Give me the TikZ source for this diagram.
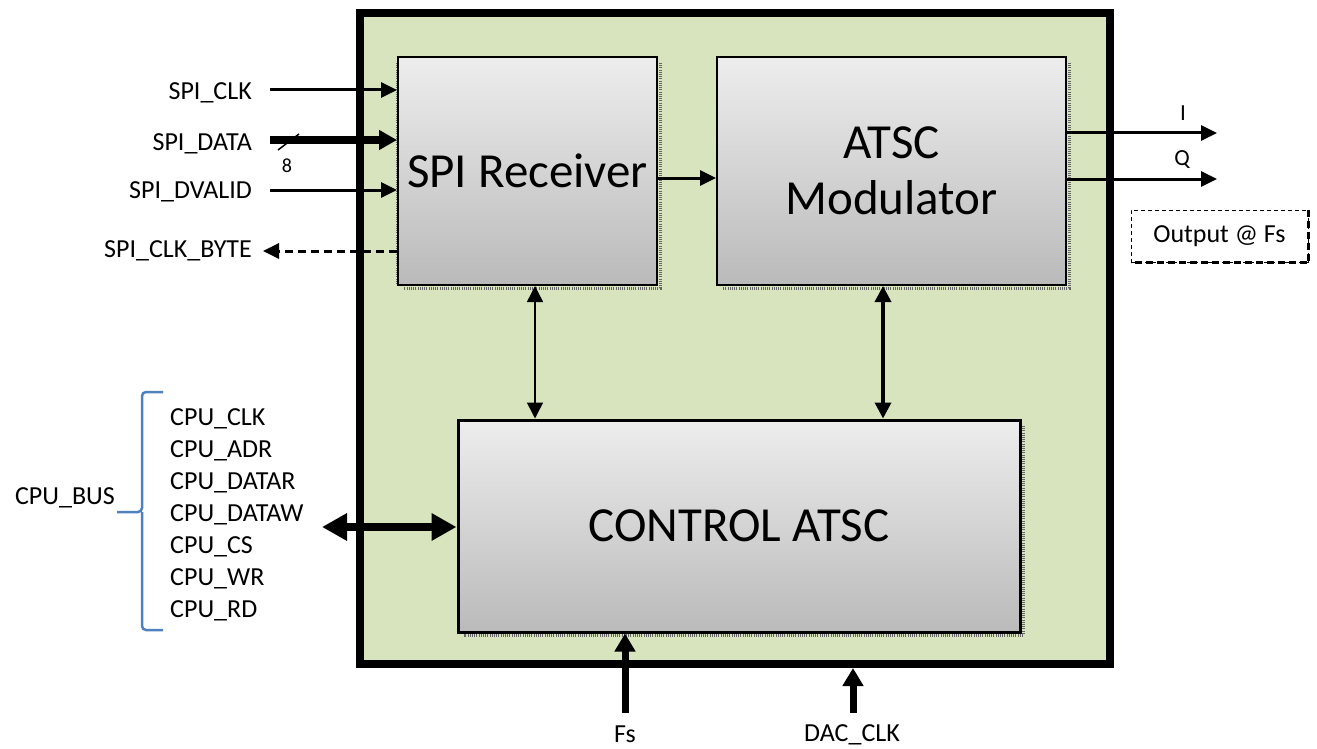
\documentclass[tikz,border=0pt]{standalone}
\usepackage{fontspec}
\setmainfont{Carlito}
\usetikzlibrary{arrows.meta,calc}
\definecolor{chipgreen}{HTML}{D7E4BD}
\definecolor{bracebl}{HTML}{4F81BD}
\tikzset{
	txt/.style={font=\fontsize{26}{30}\selectfont, inner sep=0pt},
	cpu/.style={font=\fontsize{26}{30}\selectfont, inner sep=0pt, anchor=base west},
	big/.style={font=\fontsize{49}{56}\selectfont, align=center},
	chip/.style={draw, line width=8pt, fill=chipgreen},
	blk/.style={draw, line width=2pt, top color=black!7, bottom color=black!27},
	dots/.style={draw=black!60, line width=3pt, dash pattern=on 1pt off 1.2pt},
	sig/.style={line width=3pt, -{Triangle[length=16pt,width=15pt]}},
	wide/.style={line width=8pt, -{Triangle[length=18pt,width=19pt]}},
	busarr/.style={line width=8pt, {Triangle[length=25pt,width=26pt]}-{Triangle[length=25pt,width=26pt]}},
	clkarr/.style={line width=7pt, -{Triangle[length=18pt,width=20pt]}},
	link/.style={{Triangle[length=16pt,width=16pt]}-{Triangle[length=16pt,width=16pt]}}
}

\begin{document}
\begin{tikzpicture}[x=1pt,y=-1pt]
\useasboundingbox (0,0) rectangle (1317,749);
% chip
\node[chip, minimum width=750, minimum height=651] (chip) at (735,338.5) {};
% blocks
\draw[dots] (397,63) -- (397,285);
\draw[dots] (660,63) -- (660,288) -- (404,288);
\draw[dots] (1069,63) -- (1069,288) -- (723,288);
\draw[dots] (1023,426) -- (1023,635) -- (464,635);
\node[blk, big, minimum width=259, minimum height=228] (spi) at (527.5,171) {SPI Receiver};
\node[blk, big, minimum width=349, minimum height=228] (atsc) at (891.5,171) {ATSC\\Modulator};
\node[blk, big, line width=3pt, minimum width=562, minimum height=212] (ctl) at (739,526) {CONTROL ATSC};
% SPI side
\node[txt, anchor=base east] (clk) at (252,100) {SPI\_CLK};
\node[txt, anchor=base east] (data) at (252,150) {SPI\_DATA};
\node[txt, anchor=base east] (dvalid) at (252,198) {SPI\_DVALID};
\node[txt, anchor=base east] (byte) at (252,257) {SPI\_CLK\_BYTE};
\coordinate (clkin) at (270,90);
\coordinate (datain) at (270,140);
\coordinate (dvin) at (270,190);
\coordinate (byteout) at (263,251);
\draw[sig] (clkin) -- (clkin -| spi.west);
\draw[wide] (datain) -- (datain -| spi.west);
\draw[sig] (dvin) -- (dvin -| spi.west);
\draw[sig, dash pattern=on 8pt off 5pt] (byteout -| spi.west) -- (byteout);
\draw[line width=1.5pt] (278,150) -- (299,134);
\node[font=\fontsize{20}{24}\selectfont, inner sep=0pt] (bits) at (287,166) {8};
\draw[sig] ([yshift=-7pt]spi.east) -- ([yshift=-7pt]atsc.west);
% outputs
\coordinate (iout) at (1217,133);
\coordinate (qout) at (1217,179);
\draw[sig] (iout -| atsc.east) -- (iout);
\draw[sig] (qout -| atsc.east) -- (qout);
\node[txt, font=\fontsize{23}{26}\selectfont] (ilbl) at (1183,113) {I};
\node[txt, font=\fontsize{23}{26}\selectfont] (qlbl) at (1182,160) {Q};
\node[txt, draw, line width=1pt, dash pattern=on 4pt off 3pt, minimum width=177, minimum height=52] (fsout) at (1219.5,236) {Output @ Fs};
\draw[line width=3pt, dash pattern=on 7pt off 4pt] (fsout.north east) -- (fsout.south east) -- (fsout.south west);
% links to control
\draw[link, line width=1.5pt] ([xshift=7.5pt]spi.south) -- ([xshift=7.5pt]spi.south |- ctl.north);
\draw[link, line width=3.5pt] ([xshift=-8.5pt]atsc.south) -- ([xshift=-8.5pt]atsc.south |- ctl.north);
% cpu bus
\foreach \sig [count=\i] in {CLK,ADR,DATAR,DATAW,CS,WR,RD}
	\node[cpu] (cpu\i) at (170,393+32*\i) {CPU\_\sig};
\node[cpu, anchor=base east] (bus) at (115,504) {CPU\_BUS};
\draw[bracebl, line width=2.5pt, rounded corners=4pt] (163,392) -| (142,512) -- (117,512) (142,512) |- (163,630);
\coordinate (busend) at (322,527);
\draw[busarr] (busend) -- (busend -| ctl.west);
% clocks
\coordinate (fsin) at (625,713);
\coordinate (dacin) at (853,713);
\draw[clkarr] (fsin) -- (fsin |- ctl.south);
\draw[clkarr] (dacin) -- (dacin |- chip.south);
\node[txt, anchor=base] (fs) at (625,742) {Fs};
\node[txt, anchor=base] (dac) at (852,741) {DAC\_CLK};
\end{tikzpicture}
\end{document}
